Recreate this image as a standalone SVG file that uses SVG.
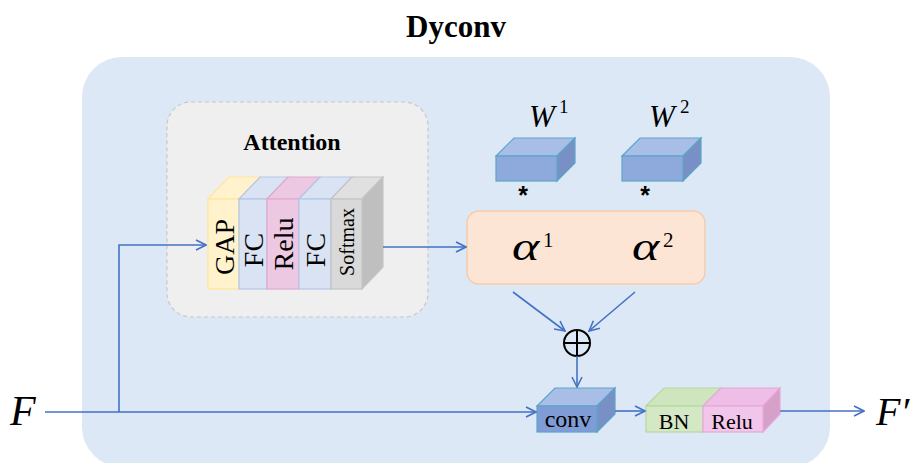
<svg xmlns="http://www.w3.org/2000/svg" width="915" height="463" viewBox="0 0 915 463">
<defs>
<style>
.serif{font-family:"Liberation Serif","Times New Roman",serif;fill:#000}
.it{font-style:italic}
.star{font-family:"Liberation Sans",Arial,sans-serif;font-weight:bold;font-size:25px;fill:#000}
.conn{fill:none;stroke:#4472C4;stroke-width:1.6}
.blue-f{fill:#8EA9DB;stroke:#5DA5C8;stroke-width:1.2}
.blue-t{fill:#A9BEE7;stroke:#5DA5C8;stroke-width:1.2}
.blue-s{fill:#7890C6;stroke:#5DA5C8;stroke-width:1.2}
</style>
<marker id="arr" viewBox="0 0 12 12" refX="11" refY="6" markerWidth="12" markerHeight="12" markerUnits="userSpaceOnUse" orient="auto">
<path d="M1,1 L11,6 L1,11" fill="none" stroke="#4472C4" stroke-width="1.6"/>
</marker>
</defs>
<rect width="915" height="463" fill="#FFFFFF"/>
<g id="container">
<rect x="82" y="57" width="748" height="410" rx="40" fill="#DCE8F5"/>
<text class="serif" x="456" y="37" font-size="31" font-weight="bold" text-anchor="middle">Dyconv</text>
</g>
<g id="attention">
<rect x="167" y="102" width="261" height="215" rx="24" fill="#EFEFEF" stroke="#C8C8C8" stroke-width="1.2" stroke-dasharray="4 3"/>
<text class="serif" x="292" y="150" font-size="24" font-weight="bold" text-anchor="middle">Attention</text>
</g>
<g id="gap">
<polygon points="208,199 229,177 260,177 239,199" fill="#FFF2CC" stroke="#FFE699" stroke-width="1.2"/>
<rect x="208" y="199" width="31" height="90" fill="#FFF2CC" stroke="#FFE699" stroke-width="1.2"/>
<text class="serif" font-size="28" text-anchor="middle" transform="translate(223.5,247) rotate(-90)" y="10">GAP</text>
</g>
<g id="fc1">
<polygon points="239,199 260,177 288,177 267,199" fill="#DAE3F3" stroke="#B4C7E7" stroke-width="1.2"/>
<rect x="239" y="199" width="28" height="90" fill="#DAE3F3" stroke="#B4C7E7" stroke-width="1.2"/>
<text class="serif" font-size="28" text-anchor="middle" transform="translate(253,250) rotate(-90)" y="10">FC</text>
</g>
<g id="relu1">
<polygon points="267,199 288,177 320,177 299,199" fill="#EDC8E2" stroke="#E3A8D3" stroke-width="1.2"/>
<rect x="267" y="199" width="32" height="90" fill="#EDC8E2" stroke="#E3A8D3" stroke-width="1.2"/>
<text class="serif" font-size="28" text-anchor="middle" transform="translate(283,244) rotate(-90)" y="10">Relu</text>
</g>
<g id="fc2">
<polygon points="299,199 320,177 352,177 331,199" fill="#DAE3F3" stroke="#B4C7E7" stroke-width="1.2"/>
<rect x="299" y="199" width="32" height="90" fill="#DAE3F3" stroke="#B4C7E7" stroke-width="1.2"/>
<text class="serif" font-size="28" text-anchor="middle" transform="translate(315,250) rotate(-90)" y="10">FC</text>
</g>
<g id="softmax">
<polygon points="331,199 352,177 383,177 362,199" fill="#E0E0E0" stroke="#C4C4C4" stroke-width="1.2"/>
<polygon points="362,199 383,177 383,267 362,289" fill="#BFBFBF" stroke="#C4C4C4" stroke-width="1.2"/>
<rect x="331" y="199" width="31" height="90" fill="#D9D9D9" stroke="#C4C4C4" stroke-width="1.2"/>
<text class="serif" font-size="20" text-anchor="middle" transform="translate(346.5,242) rotate(-90)" y="7">Softmax</text>
</g>
<g id="w1">
<polygon class="blue-t" points="496,156 514,138 575,138 557,156"/>
<polygon class="blue-s" points="557,156 575,138 575,163 557,181"/>
<rect class="blue-f" x="496" y="156" width="61" height="25"/>
<text class="serif it" x="529" y="127" font-size="31">W</text>
<text class="serif" x="559" y="113" font-size="19">1</text>
<text class="star" x="523" y="204" text-anchor="middle">*</text>
</g>
<g id="w2">
<polygon class="blue-t" points="622,156 640,138 701,138 683,156"/>
<polygon class="blue-s" points="683,156 701,138 701,163 683,181"/>
<rect class="blue-f" x="622" y="156" width="61" height="25"/>
<text class="serif it" x="649" y="127" font-size="31">W</text>
<text class="serif" x="680" y="113" font-size="19">2</text>
<text class="star" x="645" y="204" text-anchor="middle">*</text>
</g>
<g id="alpha">
<rect x="467" y="211" width="238" height="73" rx="12" fill="#FCE5D5" stroke="#F7CBAA" stroke-width="1.4"/>
<text class="serif it" font-size="40" transform="translate(512,260) scale(1.3,1)">α</text>
<text class="serif" x="543" y="247" font-size="21">1</text>
<text class="serif it" font-size="40" transform="translate(632,260) scale(1.3,1)">α</text>
<text class="serif" x="663" y="247" font-size="21">2</text>
</g>
<g id="sum">
<circle cx="577" cy="343" r="13" fill="none" stroke="#000" stroke-width="2"/>
<line x1="564" y1="343" x2="590" y2="343" stroke="#000" stroke-width="2"/>
<line x1="577" y1="330" x2="577" y2="356" stroke="#000" stroke-width="2"/>
</g>
<g id="conv">
<polygon class="blue-t" points="537,406 555,388 615,388 597,406"/>
<polygon class="blue-s" points="597,406 615,388 615,414 597,432"/>
<rect class="blue-f" x="537" y="406" width="60" height="26" style="fill:#7F9CD6"/>
<text class="serif" x="568" y="427" font-size="24" text-anchor="middle">conv</text>
</g>
<g id="bnrelu">
<polygon points="646,406 664,388 721,388 703,406" fill="#CFE5BD" stroke="#B5D99C" stroke-width="1.2"/>
<polygon points="703,406 721,388 780,388 763,406" fill="#EEBEE6" stroke="#E8A6DC" stroke-width="1.2"/>
<polygon points="763,406 780,388 780,414 763,432" fill="#D6A0C8" stroke="#E8A6DC" stroke-width="1.2"/>
<rect x="646" y="406" width="57" height="26" fill="#D5E8C5" stroke="#B5D99C" stroke-width="1.2"/>
<rect x="703" y="406" width="60" height="26" fill="#F2C5EA" stroke="#E8A6DC" stroke-width="1.2"/>
<text class="serif" x="674" y="429" font-size="22" text-anchor="middle">BN</text>
<text class="serif" x="732" y="429" font-size="22" text-anchor="middle">Relu</text>
</g>
<g id="io">
<text class="serif it" x="10" y="425" font-size="42">F</text>
<text class="serif it" x="876" y="425" font-size="40">F′</text>
</g>
<g id="connectors">
<path class="conn" d="M45,412 H536" marker-end="url(#arr)"/>
<path class="conn" d="M119,412 V245 H206" marker-end="url(#arr)"/>
<path class="conn" d="M383,247 H466" marker-end="url(#arr)"/>
<path class="conn" d="M513,292 L565,331" marker-end="url(#arr)"/>
<path class="conn" d="M635,292 L589,331" marker-end="url(#arr)"/>
<path class="conn" d="M577,356 V387" marker-end="url(#arr)"/>
<path class="conn" d="M615,411 H645" marker-end="url(#arr)"/>
<path class="conn" d="M780,411 H864" marker-end="url(#arr)"/>
</g>
</svg>
